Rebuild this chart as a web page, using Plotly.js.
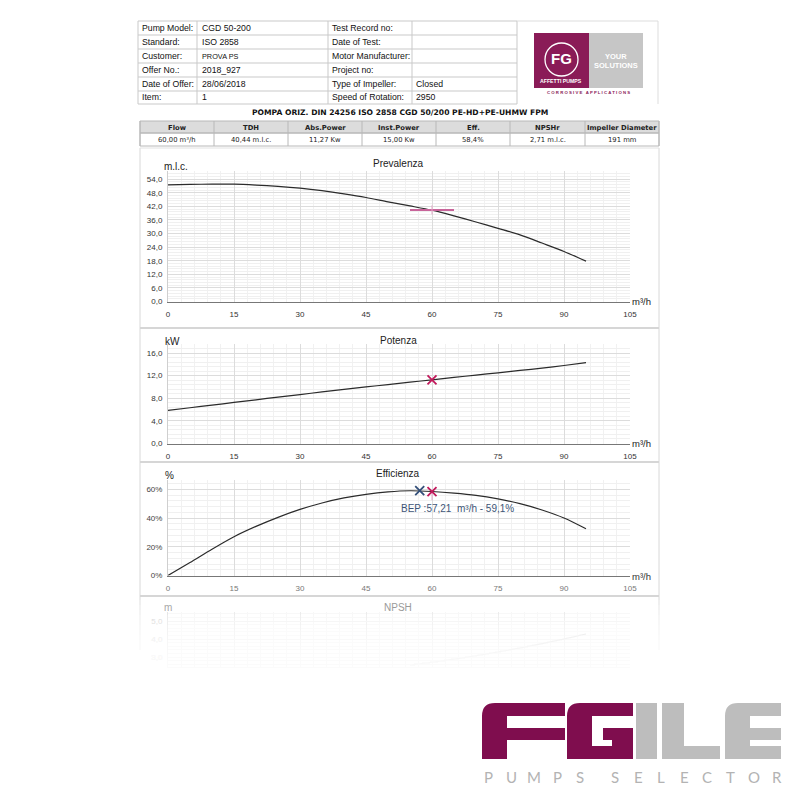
<!DOCTYPE html>
<html><head><meta charset="utf-8">
<script src="https://cdn.plot.ly/plotly-3.0.1.min.js"></script>
<style>html,body{margin:0;padding:0;background:#fff}#chart{width:800px;height:800px}</style>
</head><body><div id="chart"></div>
<script>
// ---------------- DATA ----------------
const flowPts   = [0,5,10,15,20,25,30,35,40,45,50,55,60,65,70,75,80,85,90,95];
const headVals  = [51.5,51.7,51.8,51.8,51.4,50.8,50.0,48.9,47.5,45.9,44.0,42.2,40.3,37.8,35.1,32.3,29.4,25.8,22.1,17.8];
const powerVals = [5.85,6.32,6.79,7.26,7.73,8.2,8.66,9.12,9.56,10.0,10.43,10.85,11.27,11.68,12.1,12.5,12.92,13.34,13.8,14.3];
const effVals   = [0,9.0,18.3,27.0,34.2,40.5,46.0,50.5,54.0,56.5,58.2,59.0,58.5,57.4,55.8,53.3,50.0,45.6,40.0,32.5];
const npshFlow  = [55,60,65,70,75,80,85,90,95];
const npshVals  = [2.55,2.71,2.88,3.07,3.28,3.5,3.74,4.0,4.28];

const xTicks     = [0,15,30,45,60,75,90,105];
const headTicks  = [0,6,12,18,24,30,36,42,48,54];
const powerTicks = [0,4,8,12,16];
const effTicks   = [0,20,40,60];
const npshTicks  = [0,1,2,3,4,5];

const opFlow = 60, opHead = 40.44, opPower = 11.27, opEff = 58.4;
const bepFlow = 57.21, bepEff = 59.1;

const hdrLabelsL = ['Pump Model:','Standard:','Customer:','Offer No.:','Date of Offer:','Item:'];
const hdrValuesL = ['CGD 50-200','ISO 2858','PROVA PS','2018_927','28/06/2018','1'];
const hdrLabelsR = ['Test Record no:','Date of Test:','Motor Manufacturer:','Project no:','Type of Impeller:','Speed of Rotation:'];
const hdrValuesR = ['','','','','Closed','2950'];

const pumpTitle = 'POMPA ORIZ. DIN 24256 ISO 2858 CGD 50/200 PE-HD+PE-UHMW FPM';
const paramHeaders = ['Flow','TDH','Abs.Power','Inst.Power','Eff.','NPSHr','Impeller Diameter'];
const paramValues  = ['60,00 m³/h','40,44 m.l.c.','11,27 Kw','15,00 Kw','58,4%','2,71 m.l.c.','191 mm'];

// ---------------- HELPERS ----------------
const px = x => x/800, py = y => 1 - y/800;
const fmt = (v,d) => v.toFixed(d).replace('.', ',');
const shapes = [], annotations = [];
function hline(x0,x1,y,color,w){shapes.push({type:'line',xref:'paper',yref:'paper',x0:px(x0),x1:px(x1),y0:py(y),y1:py(y),line:{color,width:w||1}});}
function vline(x,y0,y1,color,w){shapes.push({type:'line',xref:'paper',yref:'paper',x0:px(x),x1:px(x),y0:py(y0),y1:py(y1),line:{color,width:w||1}});}
function rect(x0,y0,x1,y1,fill,lc,lw){shapes.push({type:'rect',xref:'paper',yref:'paper',x0:px(x0),x1:px(x1),y0:py(y0),y1:py(y1),fillcolor:fill,line:{color:lc||fill,width:lw||0}});}
function txt(x,y,t,size,color,anchor,family){annotations.push({xref:'paper',yref:'paper',x:px(x),y:py(y),text:t,showarrow:false,xanchor:anchor||'center',yanchor:'middle',borderpad:0,font:{family:family||'Liberation Sans, Arial, sans-serif',size,color:color||'#111'}});}
function pathPx(cmds){return cmds.map(c=>{let s=c[0];for(let i=1;i<c.length;i+=2){s+=' '+px(c[i]).toFixed(5)+','+py(c[i+1]).toFixed(5);}return s;}).join(' ');}
function pshape(cmds,fill){shapes.push({type:'path',xref:'paper',yref:'paper',path:pathPx(cmds),fillcolor:fill,line:{width:0}});}

// ---------------- HEADER TABLE ----------------
const hdrRows = [21,35,49,63,77,91,104];
const hdrCols = [138,197,328,412,517];
const gridC = '#c9c9c9';
hdrRows.forEach(y=>hline(138,517,y,gridC));
hdrCols.forEach(x=>vline(x,21,104,gridC));
hline(517,658,21,'#dddddd'); vline(658,21,104,'#dddddd');
for(let i=0;i<6;i++){
  const yc=(hdrRows[i]+hdrRows[i+1])/2;
  txt(141,yc,hdrLabelsL[i],8.7,'#111','left');
  txt(201,yc,hdrValuesL[i],i===2?7.3:8.7,'#111','left');
  txt(331,yc,hdrLabelsR[i],8.7,'#111','left');
  txt(415,yc,hdrValuesR[i],8.7,'#111','left');
}
// small logo
const mag='#8a1b57';
rect(534,33,589,88,mag);
rect(589,33,643,88,'#c6c6c6');
shapes.push({type:'circle',xref:'paper',yref:'paper',x0:px(545),x1:px(578),y0:py(43),y1:py(76),line:{color:'#fff',width:1.3}});
txt(561,59,'<b>FG</b>',15,'#fff');
txt(561,81,'<b>AFFETTI PUMPS</b>',5.2,'#fff');
txt(616,56,'<b>YOUR</b>',7.5,'#fff');
txt(616,65,'<b>SOLUTIONS</b>',7.5,'#fff');
txt(588,92.5,'<b>C O R R O S I V E   A P P L I C A T I O N S</b>',4.3,mag);

// ---------------- TITLE + PARAM TABLE ----------------
txt(400,113,'<b>'+pumpTitle+'</b>',7.6,'#111','center','DejaVu Sans, Verdana, sans-serif');
const pCols=[140,214,288,362,436,510,585,659];
rect(140,121,659,133,'#dcdcdc','#b8b8b8',1);
rect(140,133,659,146,'rgba(0,0,0,0)','#b8b8b8',1);
pCols.forEach(x=>vline(x,121,146,'#b8b8b8'));
for(let i=0;i<7;i++){
  const xc=(pCols[i]+pCols[i+1])/2;
  txt(xc,127.5,'<b>'+paramHeaders[i]+'</b>',6.8,'#222','center','DejaVu Sans, Verdana, sans-serif');
  txt(xc,140,paramValues[i],6.8,'#222','center','DejaVu Sans, Verdana, sans-serif');
}

// ---------------- CHART FRAMES ----------------
vline(140,148,650,'#d8d8d8'); vline(659,148,650,'#d8d8d8');
hline(140,659,148,'#e2e2e2');
[328,462,596].forEach(y=>hline(140,659,y,'#d6d6d6',2));

// titles / units
txt(398,164,'Prevalenza',10,'#222');
txt(176,166,'m.l.c.',10,'#222');
txt(398,340,'Potenza',10,'#222');
txt(172,341,'kW',10,'#222');
txt(398,473,'Efficienza',10,'#222');
txt(169,475,'%',10,'#222');
txt(398,607,'NPSH',10,'#9a9a9a');
txt(168,607,'m',10,'#a8a8a8');
txt(631,301,'m³/h',9.5,'#222','left');
txt(631,443,'m³/h',9.5,'#222','left');
txt(631,576,'m³/h',9.5,'#333','left');
txt(457,508,'BEP :'+fmt(bepFlow,2)+'  m³/h - '+fmt(bepEff,1)+'%',10,'#3d5577');

// ---------------- AXES ----------------
const X0=168, X1=630;
function mkX(anchor,labelColor,show){
  return {domain:[px(X0),px(X1)],anchor,range:[0,105],tickvals:xTicks,ticktext:xTicks.map(String),
    showgrid:true,gridcolor:'#dcdcdc',minor:{dtick:3,tick0:0,showgrid:true,gridcolor:'#f1f1f1'},
    zeroline:false,showline:true,linecolor:'#777',linewidth:1,ticks:'',showticklabels:show!==false,
    tickfont:{family:'Liberation Sans, Arial, sans-serif',size:8,color:labelColor},ticklabelstandoff:5,fixedrange:true};
}
function mkY(anchor,top,bottom,range,ticks,text,minor,labelColor,gridC,minorC){
  return {domain:[py(bottom),py(top)],anchor,range,tickvals:ticks,ticktext:text,
    showgrid:true,gridcolor:gridC||'#dcdcdc',minor:{dtick:minor,tick0:0,showgrid:true,gridcolor:minorC||'#f0f0f0'},
    zeroline:false,showline:true,linecolor:'#cfcfcf',linewidth:1,ticks:'',
    tickfont:{family:'Liberation Sans, Arial, sans-serif',size:8,color:labelColor},ticklabelstandoff:3,fixedrange:true};
}

// ---------------- TRACES ----------------
const curve = {color:'#2b2b2b',width:1.2,shape:'spline',smoothing:0.8};
const pinkL = '#c8649a', pinkS = '#e3a6c6', redX = '#c2185b', blueX = '#34507a';
const traces = [
  {x:flowPts,y:headVals,xaxis:'x',yaxis:'y',mode:'lines',line:curve,hoverinfo:'skip'},
  {x:[opFlow-5,opFlow+5],y:[opHead,opHead],xaxis:'x',yaxis:'y',mode:'lines',line:{color:pinkL,width:2},hoverinfo:'skip'},
  {x:[opFlow,opFlow],y:[opHead-2,opHead+2],xaxis:'x',yaxis:'y',mode:'lines',line:{color:pinkS,width:1},hoverinfo:'skip'},
  {x:flowPts,y:powerVals,xaxis:'x2',yaxis:'y2',mode:'lines',line:curve,hoverinfo:'skip'},
  {x:[opFlow],y:[opPower],xaxis:'x2',yaxis:'y2',mode:'markers',marker:{symbol:'x-thin',size:9,line:{color:redX,width:1.8}},hoverinfo:'skip'},
  {x:flowPts,y:effVals,xaxis:'x3',yaxis:'y3',mode:'lines',line:curve,hoverinfo:'skip'},
  {x:[opFlow,opFlow],y:[opEff,opEff-6],xaxis:'x3',yaxis:'y3',mode:'lines',line:{color:pinkS,width:1},hoverinfo:'skip'},
  {x:[opFlow],y:[opEff],xaxis:'x3',yaxis:'y3',mode:'markers',marker:{symbol:'x-thin',size:9,line:{color:redX,width:1.8}},hoverinfo:'skip'},
  {x:[bepFlow],y:[bepEff],xaxis:'x3',yaxis:'y3',mode:'markers',marker:{symbol:'x-thin',size:9,line:{color:blueX,width:1.8}},hoverinfo:'skip'},
  {x:npshFlow,y:npshVals,xaxis:'x4',yaxis:'y4',mode:'lines',line:{color:'#bbbbbb',width:1.2,shape:'spline'},hoverinfo:'skip'}
];

// ---------------- FADE + FOOTER LOGO ----------------
for(let i=0;i<14;i++){ rect(130,600+5*i,670,672,'rgba(255,255,255,0.2)'); }
rect(0,668,800,800,'#ffffff');

const AG='#7f0d4e', ILE='#bdbdbd';
const T=703,B=759;
pshape([['M',482,B],['L',482,716],['Q',482,T,495,T],['L',565,T],['L',565,716],['L',507,716],['L',507,728],['L',565,728],['L',565,740],['L',507,740],['L',507,B],['Z']],AG);
pshape([['M',567,B],['L',567,716],['Q',567,T,580,T],['L',633,T],['L',633,716],['L',592,716],['L',592,746],['L',612,746],['L',612,740],['L',603,740],['L',603,728],['L',633,728],['L',633,B],['Z']],AG);
pshape([['M',636,T],['L',657,T],['L',657,B],['L',636,B],['Z']],ILE);
pshape([['M',662,T],['L',684,T],['L',684,746],['L',720,746],['L',720,B],['L',662,B],['Z']],ILE);
pshape([['M',725,B],['L',725,716],['Q',725,T,738,T],['L',781,T],['L',781,716],['L',750,716],['L',750,728],['L',781,728],['L',781,740],['L',750,740],['L',750,746],['L',781,746],['L',781,B],['Z']],ILE);
const tag='PUMPSSELECTOR'.split('');
tag.forEach((ch,k)=>{ const pos = k<5 ? k : k+0.5; txt(488+23.1*pos,777,ch,15,'#b3b3b3','center','Lato, DejaVu Sans, sans-serif'); });

// ---------------- LAYOUT ----------------
const layout = {
  width:800,height:800,margin:{l:0,r:0,t:0,b:0},paper_bgcolor:'#fff',plot_bgcolor:'#fff',showlegend:false,
  xaxis: mkX('y','#333'),
  yaxis: mkY('x',171,301.5,[0,57.6],headTicks,headTicks.map(v=>fmt(v,1)),1.2,'#333'),
  xaxis2: mkX('y2','#333'),
  yaxis2: mkY('x2',344,443.5,[0,17.6],powerTicks,powerTicks.map(v=>fmt(v,1)),0.8,'#333'),
  xaxis3: mkX('y3','#777'),
  yaxis3: mkY('x3',480,575.5,[0,66.5],effTicks,effTicks.map(v=>v+'%'),4,'#444'),
  xaxis4: mkX('y4','#ccc',false),
  yaxis4: mkY('x4',612,711,[0,5.5],npshTicks,npshTicks.map(v=>fmt(v,1)),0.2,'#aaa','#e6e6e6','#f3f3f3'),
  shapes, annotations
};
Plotly.newPlot('chart',traces,layout,{staticPlot:true,displayModeBar:false});
</script></body></html>
